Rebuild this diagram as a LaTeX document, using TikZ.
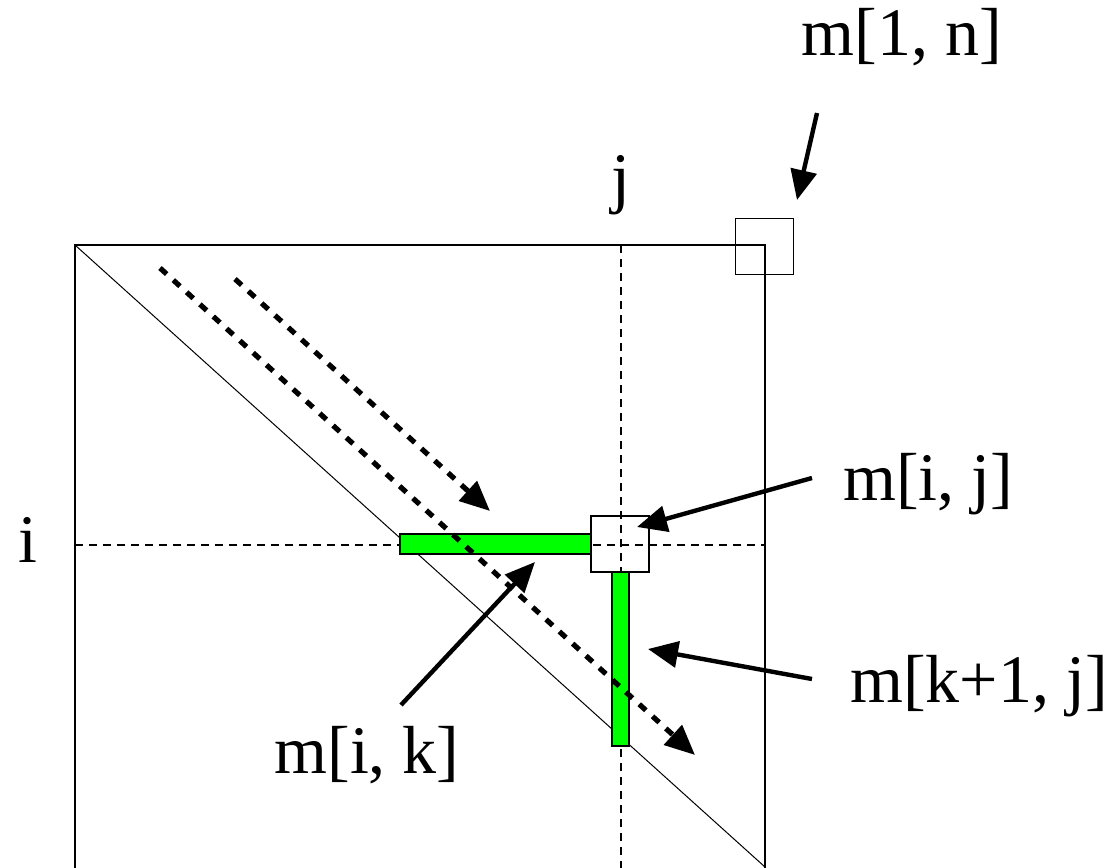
\documentclass[tikz,border=0pt]{standalone}
\usepackage{fontspec}
\setmainfont{Liberation Serif}
\usetikzlibrary{arrows.meta}
\definecolor{bargreen}{RGB}{0,255,0}
\begin{document}
\begin{tikzpicture}[x=0.5pt,y=-0.5pt,
		lbl/.style={font=\fontsize{34}{40}\selectfont,inner sep=0pt,anchor=base},
		ptr/.style={line width=2.2pt,-{Triangle[length=15pt,width=13pt]}},
		flow/.style={line width=2.6pt,dash pattern=on 4.5pt off 4.5pt,-{Triangle[length=15pt,width=13pt]}},
		guide/.style={line width=0.6pt,dash pattern=on 4pt off 3pt},
		cell/.style={draw,line width=0.7pt,minimum width=29pt,minimum height=28pt,inner sep=0pt}]
	\useasboundingbox (0,0) rectangle (1113,867);
	\draw[line width=0.7pt] (75,880) -- (75,245) -- (765,245) -- (765,880);
	\draw[line width=0.5pt] (75,245) -- (765,867);
	\draw[guide] (75,545) -- (765,545);
	\draw[guide] (621,245) -- (621,880);
	\draw[line width=0.6pt,fill=bargreen] (400,534) rectangle (591,554);
	\draw[line width=0.6pt,fill=bargreen] (612,572) rectangle (629,746);
	\node[cell] (cellij) at (620,544) {};
	\node[cell] (cell1n) at (764.5,246.5) {};
	\coordinate (tail1n) at (817,113);  \coordinate (tip1n) at (797,200);
	\coordinate (tailij) at (812,478);  \coordinate (tipij) at (637,527);
	\coordinate (tailkj) at (812,679);  \coordinate (tipkj) at (648,649);
	\coordinate (tailik) at (401,705);  \coordinate (tipik) at (535,562);
	\coordinate (upstart) at (235,279); \coordinate (upend) at (490,511);
	\coordinate (lowstart) at (160,268); \coordinate (lowend) at (695,755);
	\draw[flow] (upstart) -- (upend);
	\draw[flow] (lowstart) -- (lowend);
	\draw[ptr] (tail1n) -- (tip1n);
	\draw[ptr] (tailij) -- (tipij);
	\draw[ptr] (tailkj) -- (tipkj);
	\draw[ptr] (tailik) -- (tipik);
	\node[lbl] (lbl1n) at (902,55) {m[1, n]};
	\node[lbl] (lblj) at (621,200) {j};
	\node[lbl] (lbli) at (28,562) {i};
	\node[lbl,anchor=base west] (lblij) at (843,500) {m[i, j]};
	\node[lbl,anchor=base west] (lblkj) at (850,702) {m[k+1, j]};
	\node[lbl] (lblik) at (367,773) {m[i, k]};
\end{tikzpicture}
\end{document}
